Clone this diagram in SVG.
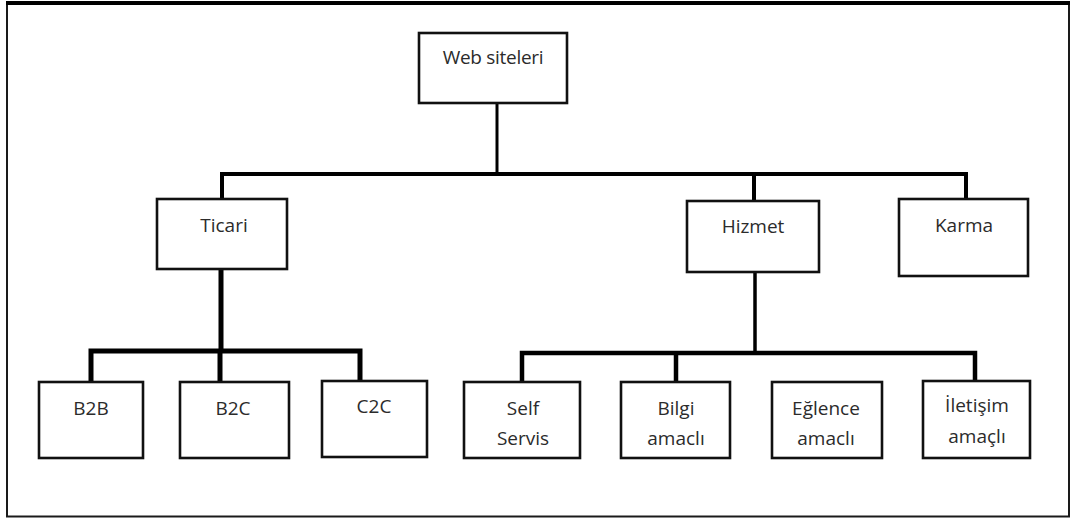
<svg xmlns="http://www.w3.org/2000/svg" width="1072" height="519" viewBox="0 0 1072 519">
<style>
.box{fill:#fff;stroke:#111;stroke-width:2.6}
.lbl{font-family:"Open Sans","Noto Sans",sans-serif;font-size:19px;fill:#2b2b2b;text-anchor:middle}
.con{fill:none;stroke:#000;stroke-linecap:square;stroke-linejoin:miter}
</style>
<rect x="0" y="0" width="1072" height="519" fill="#fff"/>
<g id="frame">
<rect x="7" y="3.5" width="1062" height="513" fill="none" stroke="#1a1a1a" stroke-width="2"/>
<line x1="6" y1="3" x2="1070" y2="3" stroke="#000" stroke-width="4"/>
</g>
<g id="connectors">
<path class="con" stroke-width="3" d="M497 103 V174"/>
<path class="con" stroke-width="4" d="M222 200 V174 H966 V199 M754 174 V201"/>
<path class="con" stroke-width="5" d="M221 270 V351 M91 382 V351 H360 V381 M220 351 V382"/>
<path class="con" stroke-width="3.5" d="M755 272 V353"/>
<path class="con" stroke-width="4.5" d="M522 382 V353 H975 V381 M676 353 V382"/>
</g>
<g id="n-web"><rect class="box" x="419" y="33" width="148" height="70"/><text class="lbl" x="493" y="64" letter-spacing="-0.3">Web siteleri</text></g>
<g id="n-ticari"><rect class="box" x="157" y="199" width="130" height="70"/><text class="lbl" x="224" y="232">Ticari</text></g>
<g id="n-hizmet"><rect class="box" x="687" y="201" width="132" height="71"/><text class="lbl" x="753" y="233">Hizmet</text></g>
<g id="n-karma"><rect class="box" x="899" y="199" width="129" height="77"/><text class="lbl" x="964" y="232">Karma</text></g>
<g id="n-b2b"><rect class="box" x="39" y="382" width="104" height="76"/><text class="lbl" x="91" y="415">B2B</text></g>
<g id="n-b2c"><rect class="box" x="180" y="382" width="109" height="76"/><text class="lbl" x="233" y="415">B2C</text></g>
<g id="n-c2c"><rect class="box" x="322" y="381" width="105" height="76"/><text class="lbl" x="374" y="413">C2C</text></g>
<g id="n-self"><rect class="box" x="464" y="382" width="116" height="76"/><text class="lbl" x="523" y="415">Self</text><text class="lbl" x="523" y="445">Servis</text></g>
<g id="n-bilgi"><rect class="box" x="621" y="382" width="109" height="76"/><text class="lbl" x="676" y="415">Bilgi</text><text class="lbl" x="676" y="445">amaclı</text></g>
<g id="n-eglence"><rect class="box" x="772" y="382" width="110" height="76"/><text class="lbl" x="826" y="415">Eğlence</text><text class="lbl" x="826" y="445">amaclı</text></g>
<g id="n-iletisim"><rect class="box" x="923" y="381" width="107" height="77"/><text class="lbl" x="977" y="412">İletişim</text><text class="lbl" x="977" y="443">amaçlı</text></g>
</svg>
